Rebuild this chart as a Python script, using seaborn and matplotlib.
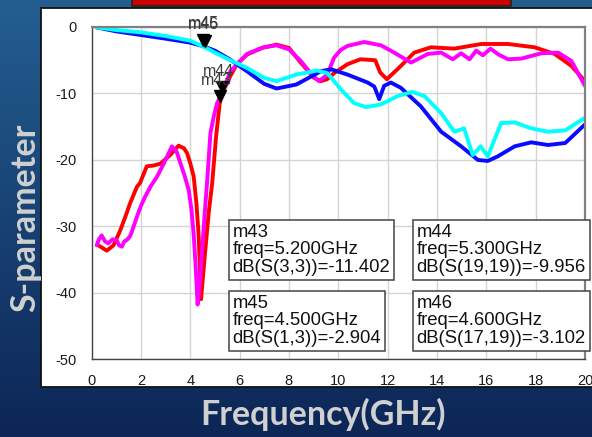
import numpy as np
import pandas as pd
import matplotlib
matplotlib.use("Agg")
import matplotlib.pyplot as plt
from matplotlib.patches import Rectangle
from matplotlib.transforms import offset_copy
import seaborn as sns

# ---- measured S-parameters (frequency in GHz, magnitude in dB) ----
freq_s33 = [0.28, 0.45, 0.62, 0.89, 1.16, 1.4, 1.56, 1.84, 1.97, 2.24, 2.5, 2.8,
            3.19, 3.53, 3.75, 3.87, 4.0, 4.14, 4.25, 4.34, 4.44, 4.52, 4.61, 4.75,
            4.89, 5.05, 5.2, 5.4, 5.63, 5.9, 6.3, 6.9, 7.5, 8.0, 8.48, 9.02, 9.29,
            9.55, 9.83, 10.37, 10.9, 11.5, 11.7, 11.97, 12.4, 13.08, 13.76, 14.7,
            15.8, 16.88, 17.96, 18.77, 19.45, 20.0]
db_s33 = [-32.9, -33.3, -33.7, -32.9, -30.7, -28.3, -26.6, -24.1, -23.5, -21.0, -20.9, -20.6,
          -19.3, -17.9, -18.3, -19.0, -20.5, -22.5, -26.5, -31.2, -41.0, -37.5, -33.7, -28.0,
          -23.6, -16.5, -11.402, -9.2, -7.4, -5.6, -4.2, -3.2, -2.7, -3.2, -5.4, -7.7, -8.2,
          -7.9, -7.0, -5.65, -4.9, -5.05, -6.9, -7.9, -6.4, -3.9, -3.1, -3.3,
          -2.6, -2.6, -3.1, -4.1, -5.9, -8.2]

freq_s1919 = [0.21, 0.3, 0.41, 0.55, 0.68, 0.85, 1.02, 1.12, 1.23, 1.33, 1.43, 1.55, 1.63,
              1.84, 2.0, 2.17, 2.4, 2.65, 2.9, 3.26, 3.45, 3.6, 3.78, 3.94, 4.05, 4.14, 4.22,
              4.3, 4.39, 4.48, 4.58, 4.68, 4.82, 4.95, 5.09, 5.3, 5.63, 6.3, 6.98, 7.5, 8.0,
              8.48, 8.95, 9.22, 9.56, 9.83, 10.1, 10.37, 11.05, 11.73, 12.27, 12.95, 13.63,
              14.17, 14.64, 14.98, 15.32, 15.59, 15.86, 16.17, 16.5, 16.88, 17.42, 18.23,
              18.91, 19.45, 20.0]
db_s1919 = [-32.9, -32.0, -31.4, -32.3, -32.6, -32.0, -32.1, -32.9, -33.1, -32.3, -32.1, -31.6, -30.9,
            -28.6, -27.0, -25.6, -24.0, -22.6, -20.8, -18.0, -18.8, -20.5, -22.5, -24.6, -27.5, -31.2, -36.0,
            -41.8, -38.5, -33.7, -28.5, -23.6, -16.0, -13.6, -11.5, -9.956, -6.7, -4.1, -3.1, -2.8, -3.4,
            -5.15, -7.3, -8.2, -7.2, -4.65, -3.5, -2.9, -2.3, -2.8, -3.9, -5.4, -4.1,
            -3.9, -4.9, -4.0, -4.9, -3.6, -4.3, -3.3, -4.2, -4.9, -4.8, -4.0,
            -3.9, -5.15, -8.9]

freq_s13 = [0.2, 1.0, 2.0, 3.0, 4.0, 4.5, 5.0, 5.6, 6.3, 7.0, 7.5, 8.3, 9.3, 9.7, 10.37,
            11.19, 11.46, 11.66, 11.86, 12.13, 12.54, 13.35, 14.17, 14.98, 15.66, 16.06,
            16.47, 17.15, 17.82, 18.5, 19.2, 20.0]
db_s13 = [-0.1, -0.7, -1.25, -1.8, -2.4, -2.904, -3.6, -4.9, -6.7, -8.6, -9.3, -8.7, -6.7, -6.4, -7.2,
          -8.4, -9.0, -10.9, -8.9, -8.4, -9.2, -12.0, -15.8, -18.0, -20.05, -20.2,
          -19.5, -18.0, -17.4, -17.8, -17.5, -14.7]

freq_s1719 = [0.2, 1.0, 2.0, 3.0, 4.0, 4.6, 5.0, 5.6, 6.3, 7.0, 7.5, 8.3, 9.15, 9.56, 10.1,
              10.64, 11.12, 11.73, 12.4, 13.0, 13.5, 14.17, 14.7, 15.1, 15.45, 15.77, 16.06,
              16.6, 17.15, 17.82, 18.5, 19.2, 20.0]
db_s1719 = [-0.1, -0.5, -0.85, -1.4, -2.1, -3.102, -3.9, -5.0, -6.2, -7.7, -8.2, -7.2, -6.6, -7.0, -9.4,
            -11.5, -12.1, -11.7, -10.45, -9.8, -10.45, -13.0, -15.8, -15.3, -19.3, -18.0, -19.5,
            -14.5, -14.4, -15.3, -15.8, -15.6, -13.7]

# ---- markers ----
marker_names = ["m43", "m44", "m45", "m46"]
marker_freq = [5.2, 5.3, 4.5, 4.6]
marker_db = [-11.402, -9.956, -2.904, -3.102]
marker_traces = ["dB(S(3,3))", "dB(S(19,19))", "dB(S(1,3))", "dB(S(17,19))"]

x_ticks = [0, 2, 4, 6, 8, 10, 12, 14, 16, 18, 20]
y_ticks = [-50, -40, -30, -20, -10, 0]

W, H = 592, 437
sns.set_style("white")
plt.rcParams["font.family"] = ["Liberation Sans", "DejaVu Sans"]

fig = plt.figure(figsize=(W / 100, H / 100), dpi=100)

def fx(px):
    return px / W

def fy(py):
    return 1 - py / H

# slide background: dark blue gradient
bg = fig.add_axes([0, 0, 1, 1], zorder=-10)
top = np.array([36, 94, 145]) / 255
bot = np.array([12, 38, 86]) / 255
t = np.linspace(0, 1, 200)[:, None, None]
grad = top * (1 - t) + bot * t
grad = np.repeat(grad, 4, axis=1)
bg.imshow(grad, aspect="auto", extent=[0, 1, 0, 1])
bg.set_axis_off()

# white plot panel and red header bar
fig.patches.append(Rectangle((fx(40.5), fy(387)), fx(600 - 40.5), 379 / H,
                             transform=fig.transFigure, facecolor="white",
                             edgecolor="#111111", lw=1.3, zorder=-5))
fig.patches.append(Rectangle((fx(132), fy(6)), fx(379), 10 / H,
                             transform=fig.transFigure, facecolor="#cc0000",
                             edgecolor="#222222", lw=1.2, zorder=-4))

ax = fig.add_axes([fx(91.5), fy(359), fx(585 - 91.5), (359 - 26.7) / H])
ax.set_facecolor("white")

curves = [
    (freq_s33, db_s33, "#ff0000"),
    (freq_s1919, db_s1919, "#ff00ff"),
    (freq_s13, db_s13, "#0a0aff"),
    (freq_s1719, db_s1719, "#00ffff"),
]
for fr, db, col in curves:
    df = pd.DataFrame({"freq": fr, "dB": db})
    sns.lineplot(data=df, x="freq", y="dB", ax=ax, color=col, lw=2.8,
                 sort=False, estimator=None, solid_joinstyle="round",
                 solid_capstyle="round")

ax.set_xlim(0, 20)
ax.set_ylim(-50, 0)
ax.set_xticks(x_ticks)
ax.set_xticks(np.arange(0, 21, 1), minor=True)
ax.set_yticks(y_ticks)
ax.set_yticks(np.arange(-50, 1, 2), minor=True)
ax.set_xticklabels([str(v) for v in x_ticks])
ax.set_yticklabels([str(v) for v in y_ticks])
ax.grid(True, which="major", color="#d4d4d4", lw=1.0)
ax.set_axisbelow(True)
ax.tick_params(axis="both", which="both", direction="out", colors="#333333",
               labelsize=10.5, labelcolor="#1a1a1a", width=1)
ax.tick_params(axis="y", which="major", length=9, pad=2)
ax.tick_params(axis="y", which="minor", length=5)
ax.tick_params(axis="x", which="major", length=7, pad=4)
ax.tick_params(axis="x", which="minor", length=4)
for side in ["left", "bottom"]:
    ax.spines[side].set_color("#444444")
    ax.spines[side].set_linewidth(1.0)
for side in ["top", "right"]:
    ax.spines[side].set_color("#808080")
    ax.spines[side].set_linewidth(1.6)
ax.set_xlabel("")
ax.set_ylabel("")

# marker triangles (tip on the trace) and their labels
label_offsets = {"m43": (-3, 22), "m44": (-4, 21), "m45": (1, 22), "m46": (-2, 23)}
tri = offset_copy(ax.transData, fig=fig, x=0, y=4.5, units="points")
for name, f, d in zip(marker_names, marker_freq, marker_db):
    ax.plot([f], [d], marker="v", color="black", ms=9, transform=tri,
            clip_on=False, zorder=6)
    ax.annotate(name, xy=(f, d), xytext=label_offsets[name],
                textcoords="offset pixels", ha="center", va="center",
                fontsize=11.5, color="#3a3a3a", annotation_clip=False, zorder=7)

# marker readout boxes
box_pos = {"m43": (0.2862, 0.407), "m44": (0.659, 0.407),
           "m45": (0.2862, 0.1933), "m46": (0.659, 0.1933)}
for name, f, d, tr in zip(marker_names, marker_freq, marker_db, marker_traces):
    txt = f"{name}\nfreq={f:.3f}GHz\n{tr}={d:.3f}"
    bx, by = box_pos[name]
    ax.text(bx, by, txt, transform=ax.transAxes, ha="left", va="top",
            fontsize=13.3, linespacing=1.05, color="#111111", zorder=8,
            bbox=dict(boxstyle="square,pad=0.2", facecolor="white",
                      edgecolor="#444444", lw=1.1))

# axis titles on the slide background
fig.text(fx(25), fy(218), "S-parameter", rotation=90, ha="center", va="center",
         fontsize=24.5, fontweight="bold", color="#d0d0d0", family="Lato")
fig.text(fx(323), fy(414), "Frequency(GHz)", ha="center", va="center",
         fontsize=24.5, fontweight="bold", color="#d0d0d0", family="Lato")

fig.savefig("out.png", dpi=100)
